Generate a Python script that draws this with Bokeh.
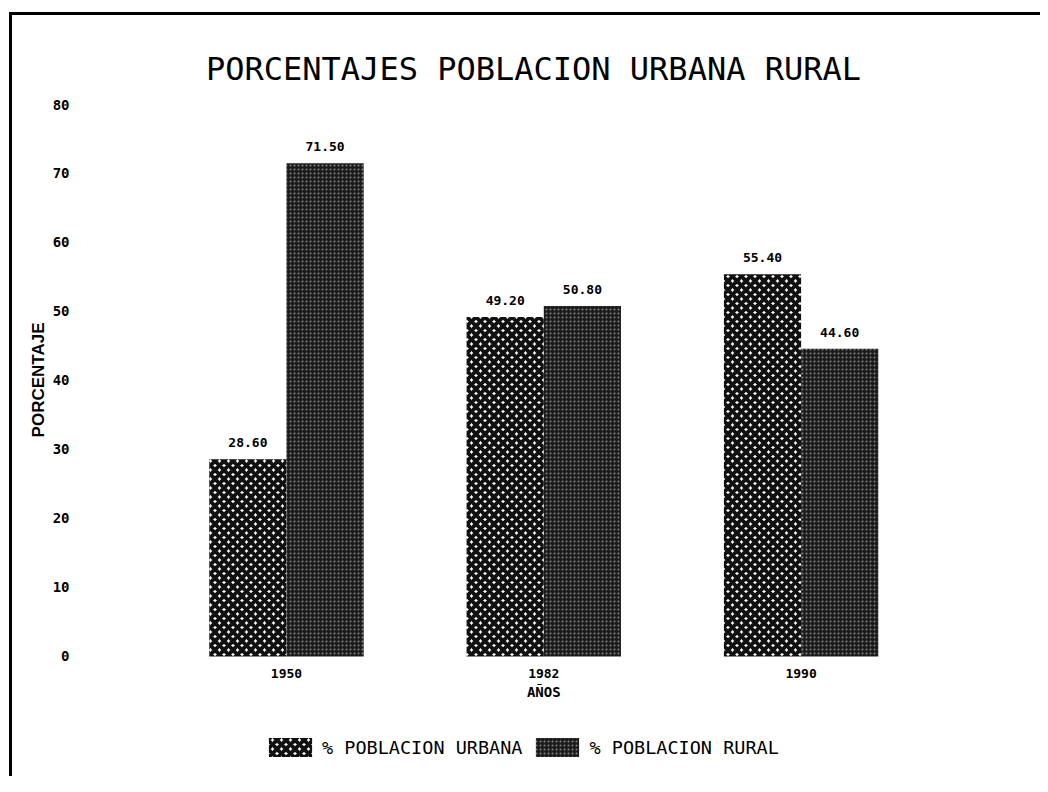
import numpy as np
from bokeh.plotting import figure
from bokeh.models import ColumnDataSource, Range1d, FixedTicker, Legend, LegendItem, Title
from bokeh.core.properties import value
from bokeh.embed import file_html
from bokeh.resources import INLINE

# ---- data ----
years = ["1950", "1982", "1990"]
urbana = [28.60, 49.20, 55.40]
rural = [71.50, 50.80, 44.60]
series_names = ["% POBLACION URBANA", "% POBLACION RURAL"]
y_ticks = [0, 10, 20, 30, 40, 50, 60, 70, 80]
title_text = "PORCENTAJES POBLACION URBANA RURAL"
x_title = "AÑOS"
y_title = "PORCENTAJE"

x = np.arange(len(years)) + 1
bar_w = 0.3

src_u = ColumnDataSource(dict(x=x - bar_w / 2, top=urbana,
                              label=[f"{v:.2f}" for v in urbana]))
src_r = ColumnDataSource(dict(x=x + bar_w / 2, top=rural,
                              label=[f"{v:.2f}" for v in rural]))
src_years = ColumnDataSource(dict(x=x, y=np.zeros(len(x)), label=years))
src_xtitle = ColumnDataSource(dict(x=[float(np.mean(x))], y=[0.0], label=[x_title]))

p = figure(frame_width=916, frame_height=672,
           x_range=Range1d(0.18, 3.74), y_range=Range1d(-17.4, 80),
           output_backend="svg", toolbar_location=None,
           title=title_text,
           min_border_left=63, min_border_right=49,
           min_border_top=89, min_border_bottom=0)
p.styles = {"border-left": "3px solid black", "border-top": "3px solid black",
            "margin-left": "9px", "margin-top": "12px"}

p.title.text_font = "DejaVu Sans Mono"
p.title.text_font_size = "32px"
p.title.text_font_style = "normal"
p.title.align = "center"
p.title.standoff = 33
p.title.text_color = "black"

ru = p.vbar(x="x", top="top", bottom=0, width=bar_w, source=src_u,
            fill_color="white", line_color=None,
            hatch_pattern="x", hatch_color="#111111",
            hatch_weight=4, hatch_scale=9)
rr = p.vbar(x="x", top="top", bottom=0, width=bar_w, source=src_r,
            fill_color="#1c1c1c", line_color=None,
            hatch_pattern="dot", hatch_color="white",
            hatch_weight=0.7, hatch_scale=4, hatch_alpha=0.45)

for src in (src_u, src_r):
    p.text(x="x", y="top", text="label", source=src,
           text_align="center", text_baseline="bottom", y_offset=-12,
           text_font=value("DejaVu Sans Mono"), text_font_style="bold",
           text_font_size="13px", text_color="black")

# category labels and axis title under the bars
p.text(x="x", y="y", text="label", source=src_years,
       text_align="center", text_baseline="top", y_offset=13,
       text_font=value("DejaVu Sans Mono"), text_font_style="bold",
       text_font_size="13px", text_color="black")
p.text(x="x", y="y", text="label", source=src_xtitle,
       text_align="center", text_baseline="top", y_offset=28,
       text_font=value("DejaVu Sans Mono"), text_font_style="bold",
       text_font_size="14px", text_color="black")

p.xgrid.grid_line_color = None
p.ygrid.grid_line_color = None
p.outline_line_color = None
p.background_fill_color = "white"
p.border_fill_color = "white"
p.xaxis.visible = False

p.yaxis.ticker = FixedTicker(ticks=y_ticks)
p.yaxis.axis_line_color = None
p.yaxis.major_tick_line_color = None
p.yaxis.minor_tick_line_color = None
p.yaxis.major_label_text_font = "DejaVu Sans Mono"
p.yaxis.major_label_text_font_style = "bold"
p.yaxis.major_label_text_color = "black"
p.yaxis.major_label_text_font_size = "14px"
p.yaxis.major_label_standoff = 0

ytitle = Title(text=y_title, align="right", offset=218, standoff=4,
               text_font="Liberation Sans", text_font_style="bold",
               text_font_size="17px", text_color="black")
p.add_layout(ytitle, "left")

legend = Legend(items=[LegendItem(label=series_names[0], renderers=[ru]),
                       LegendItem(label=series_names[1], renderers=[rr])],
                orientation="horizontal", location=(188, 17),
                glyph_width=54, glyph_height=24, label_standoff=5, spacing=8,
                label_height=24,
                label_text_font="DejaVu Sans Mono", label_text_font_size="18.5px",
                label_text_color="black", border_line_color=None,
                background_fill_color=None, padding=0, margin=0)
p.add_layout(legend)

open("out.html", "w").write(file_html(p, INLINE))
